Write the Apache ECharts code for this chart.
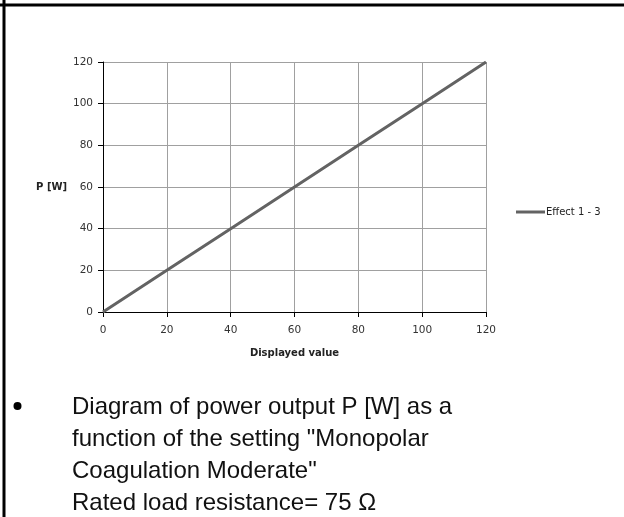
<!DOCTYPE html>
<html>
<head>
<meta charset="utf-8">
<script src="https://cdn.jsdelivr.net/npm/echarts@6/dist/echarts.min.js"></script>
<style>
  html, body { margin: 0; padding: 0; background: #fff; }
  #chart { width: 624px; height: 517px; }
</style>
</head>
<body>
<div id="chart"></div>
<script>
// Power output vs. displayed setting, Monopolar Coagulation Moderate
const displayedValues = [0, 20, 40, 60, 80, 100, 120];
const powerOutput = [0, 20, 40, 60, 80, 100, 120];
const seriesName = 'Effect 1 - 3';
const xAxisTitle = 'Displayed value';
const yAxisTitle = 'P [W]';
const captionLines = [
  'Diagram of power output P [W] as a',
  'function of the setting "Monopolar',
  'Coagulation Moderate"',
  'Rated load resistance= 75 \u03A9'
];

const chart = echarts.init(document.getElementById('chart'));
const tickFont = { fontFamily: 'DejaVu Sans', fontSize: 10.5, color: '#333' };

const captionGraphics = captionLines.map((line, i) => ({
  type: 'text',
  left: 72,
  top: 395 + i * 32,
  style: { text: line, font: '24px "Liberation Sans", Arial, sans-serif', fill: '#111' }
}));

chart.setOption({
  animation: false,
  grid: { left: 103, top: 62, width: 383, height: 250, containLabel: false },
  legend: {
    data: [seriesName],
    orient: 'vertical',
    left: 511,
    top: 202,
    itemWidth: 29,
    itemHeight: 14,
    itemGap: 0,
    icon: 'path://M0,6 L29,6 L29,9 L0,9 Z',
    textStyle: { fontFamily: 'DejaVu Sans', fontSize: 10, color: '#222', padding: [0, 0, 0, -4] }
  },
  xAxis: {
    type: 'value',
    min: 0, max: 120, interval: 20,
    name: xAxisTitle,
    nameLocation: 'middle',
    nameGap: 36,
    nameTextStyle: { fontFamily: 'DejaVu Sans', fontSize: 10, fontWeight: 'bold', color: '#222' },
    axisLine: { show: true, onZero: false, lineStyle: { color: '#000', width: 1 } },
    axisTick: { show: true, length: 5, lineStyle: { color: '#000' } },
    axisLabel: Object.assign({ margin: 13 }, tickFont),
    splitLine: { show: true, lineStyle: { color: '#a0a0a0', width: 1 } }
  },
  yAxis: {
    type: 'value',
    min: 0, max: 120, interval: 20,
    name: yAxisTitle,
    nameLocation: 'middle',
    nameRotate: 0,
    nameGap: 35,
    nameTextStyle: { fontFamily: 'DejaVu Sans', fontSize: 10, fontWeight: 'bold', color: '#222' },
    axisLine: { show: true, onZero: false, lineStyle: { color: '#000', width: 1 } },
    axisTick: { show: true, length: 5, lineStyle: { color: '#000' } },
    axisLabel: Object.assign({ margin: 10 }, tickFont),
    splitLine: { show: true, lineStyle: { color: '#a0a0a0', width: 1 } }
  },
  series: [{
    name: seriesName,
    type: 'line',
    data: displayedValues.map((x, i) => [x, powerOutput[i]]),
    showSymbol: false,
    symbol: 'none',
    lineStyle: { color: '#636363', width: 3 },
    itemStyle: { color: '#636363' }
  }],
  graphic: [
    // table cell frame
    { type: 'line', shape: { x1: 0, y1: 5, x2: 624, y2: 5 }, style: { stroke: '#000', lineWidth: 3 } },
    { type: 'line', shape: { x1: 4, y1: 0, x2: 4, y2: 517 }, style: { stroke: '#000', lineWidth: 3 } },
    // bullet
    { type: 'circle', shape: { cx: 17.5, cy: 406, r: 4 }, style: { fill: '#000' } }
  ].concat(captionGraphics)
});
</script>
</body>
</html>
